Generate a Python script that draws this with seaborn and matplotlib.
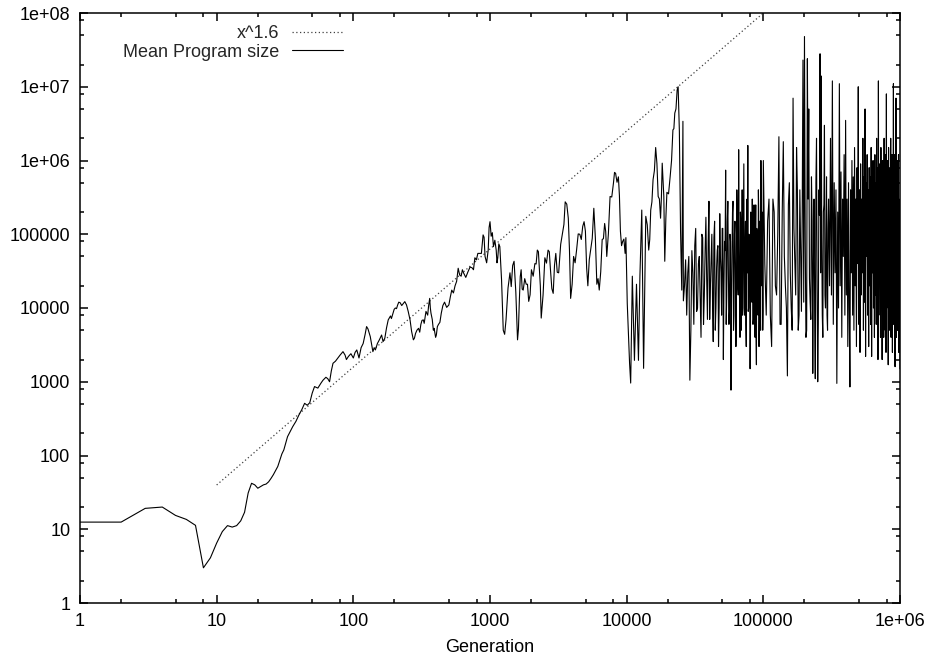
import numpy as np
import pandas as pd
import matplotlib
matplotlib.use("Agg")
import matplotlib.pyplot as plt
from matplotlib.ticker import LogLocator, FixedLocator, FixedFormatter, NullFormatter
import seaborn as sns

# ---------------- data ----------------
early_gens = [1, 2, 3, 4, 5, 6, 7, 8, 9, 10,
              11, 12, 13, 14, 15, 16, 17, 18, 19, 20,
              21, 22, 23, 24, 25, 26, 28, 30, 31, 33,
              36, 38, 40, 42, 44, 46, 48, 50, 52, 55,
              58, 60, 63, 65, 67, 69, 71, 74, 77, 80,
              84, 87, 89, 92, 96, 100, 103, 106, 110, 114,
              118, 122, 125, 128, 133, 136, 139, 142, 145, 150,
              155, 161, 165, 170, 175, 180, 187, 190, 195, 199,
              203, 207, 211, 215, 220, 226, 232, 238, 245, 252,
              260, 267, 275, 280, 285, 292, 300, 306, 312, 318,
              325, 330, 335, 340, 345, 350, 355, 362, 366, 370,
              378, 385, 390, 395, 400, 405, 412, 420, 430, 440,
              452, 465, 482, 500, 512, 525, 540, 555, 570, 585,
              600, 615, 628, 640, 665, 690, 715, 740, 757, 775,
              795, 815]
early_sizes = [12.5, 12.5, 19.2, 20, 15.4, 13.6, 11.3, 3.0, 4.1, 6.5,
               9.3, 11.2, 10.7, 11.2, 13, 17, 31, 42, 40, 36,
               38, 40, 41, 44, 49, 55, 71, 105, 119, 180,
               246, 290, 355, 420, 510, 480, 520, 700, 860, 820,
               960, 1050, 1150, 1100, 1000, 1400, 1780, 1900, 2100, 2300,
               2560, 2300, 2000, 2200, 2400, 2100, 2500, 2700, 2100, 2900,
               3300, 4400, 5600, 5200, 4100, 3200, 2560, 2900, 2700, 3300,
               3700, 4300, 3500, 3900, 5400, 6900, 7800, 7200, 8500, 9600,
               10000, 9800, 11000, 12000, 11800, 10800, 11500, 12200, 11000, 9000,
               6900, 4800, 3700, 3900, 4500, 5000, 5300, 4700, 6000, 6800,
               6900, 6200, 7500, 9000, 8500, 8000, 10500, 13500, 10000, 8500,
               7000, 5000, 5300, 4600, 4000, 4300, 5600, 6000, 6400, 8500,
               10800, 12000, 10200, 11000, 14000, 17500, 16000, 20000, 23000, 34600,
               28000, 27000, 33000, 30000, 26000, 31000, 36000, 35000, 33000, 48000,
               45000, 55000]

mid_gens = [840, 865, 890, 905, 920, 945, 970, 985, 1000, 1020,
            1040, 1060, 1085, 1110, 1125, 1140, 1160, 1180, 1215, 1250,
            1280, 1310, 1355, 1400, 1430, 1465, 1500, 1545, 1590, 1615,
            1640, 1665, 1690, 1720, 1750, 1795, 1840, 1880, 1920, 1965,
            2010, 2070, 2130, 2175, 2220, 2260, 2300, 2335, 2370, 2445,
            2520, 2590, 2660, 2715, 2770, 2835, 2900, 2965, 3030, 3105,
            3180, 3290, 3400, 3475, 3550, 3645, 3740, 3815, 3890, 3990,
            4090, 4195, 4300, 4420, 4540, 4655, 4770, 4880, 4990, 5095,
            5200, 5325, 5450, 5600, 5750, 5900, 6050, 6175, 6300, 6460,
            6620, 6760, 6900, 7025, 7150, 7350, 7560, 7780, 8000, 8150,
            8300, 8500, 8700, 8850, 9000, 9175, 9350, 9545, 9740, 9870,
            10100, 10300, 10500, 10700, 11000, 11400, 11800, 12200, 12500, 12900,
            13300, 13800, 14150, 14500, 14750, 15000, 15300, 15600, 15950, 16300,
            16650, 17000, 17350, 17700, 17950, 18200, 18700, 19000, 19350, 19700,
            20250, 20800, 21300, 21800, 22150, 22500, 22950, 23400, 23800, 24300,
            24800, 25300, 25800]
mid_sizes = [55000, 55000, 98000, 91000, 50000, 41000, 61000, 124000, 148000, 94000,
             105000, 68000, 83000, 61000, 41000, 48000, 74000, 68000, 24000, 5000,
             4400, 6900, 18700, 30000, 19500, 37700, 43000, 16400, 3700, 5200,
             12800, 26700, 33000, 18000, 17500, 25000, 21000, 21000, 12300, 15100,
             33000, 27000, 40000, 39500, 61000, 58000, 33000, 20000, 7300, 15000,
             48000, 40600, 61000, 58000, 33000, 18300, 15800, 38000, 55000, 30500,
             30000, 73000, 105000, 136000, 275000, 256000, 165000, 61000, 13500, 21000,
             50000, 41000, 61000, 101000, 100000, 85000, 128000, 148000, 110000, 35000,
             20000, 45000, 61000, 88000, 225000, 90000, 21000, 25000, 17500, 31000,
             85000, 87000, 140000, 109000, 50000, 102000, 325000, 320000, 490000, 690000,
             670000, 507000, 600000, 334000, 110000, 70000, 80000, 86000, 55000, 90000,
             11500, 4500, 1800, 960, 27000, 1950, 21000, 1950, 27000, 213000,
             1520, 175000, 134000, 61000, 85000, 213000, 274000, 550000, 726000, 1500000,
             907000, 325000, 301000, 165000, 312000, 920000, 325000, 43000, 164000, 370000,
             353000, 600000, 1000000, 2600000, 2700000, 4400000, 5000000, 9000000, 10000000, 2500000,
             105000, 17500, 3400000]

tail1_gens = list(range(26000, 100000, 1000))
tail1_sizes = [12500, 45000, 30000, 1050, 60000, 6000, 120000, 10000, 50000, 4000,
               90000, 15000, 170000, 7000, 280000, 20000, 100000, 3500, 150000, 10000,
               60000, 3000, 190000, 30000, 120000, 2000, 80000, 740000, 15000, 280000,
               6000, 100000, 770, 60000, 280000, 8000, 150000, 3000, 400000, 20000,
               1400000, 12000, 200000, 5000, 400000, 30000, 900000, 8000, 150000, 3000,
               300000, 1600000, 10000, 80000, 1500, 200000, 15000, 300000, 6000, 120000,
               40000, 4000, 250000, 1700, 100000, 20000, 400000, 3000, 150000, 8000,
               1000000, 30000, 200000, 5000]

tail1b_gens = list(range(26500, 100000, 1000))
tail1b_sizes = [20000, 8000, 50000, 5000, 30000, 70000, 9000, 40000, 15000, 100000,
                6000, 60000, 25000, 80000, 7000, 45000, 12000, 90000, 5000, 35000,
                70000, 10000, 50000, 8000, 120000, 20000, 60000, 6000, 150000, 30000,
                9000, 80000, 12000, 200000, 5000, 100000, 40000, 7000, 150000, 15000,
                60000, 4000, 120000, 25000, 8000, 200000, 10000, 70000, 6000, 150000,
                30000, 9000, 100000, 20000, 5000, 180000, 12000, 60000, 7000, 250000,
                15000, 80000, 4000, 120000, 30000, 8000, 200000, 10000, 90000, 5000,
                150000, 20000, 60000, 9000]

tail2_gens = list(range(100000, 1000001, 5000))
tail2_sizes = [1000000, 8000, 300000, 3000, 200000, 15000, 2100000, 6000, 1800000, 20000,
               1200, 500000, 10000, 7000000, 40000, 1500000, 5000, 400000, 9000, 23000000,
               48000000, 4000, 24000000, 5000000, 12000, 600000, 1300, 300000, 1100, 2000000,
               1000, 400000, 28000000, 14000000, 8000, 200000, 3000000, 10000, 600000, 5000,
               300000, 20000, 2000000, 15000, 12000000, 6000, 500000, 30000, 400000, 950,
               200000, 10000, 11000000, 20000, 700000, 4000, 300000, 50000, 1200000, 8000,
               3500000, 15000, 300000, 3000, 500000, 10000, 850, 400000, 30000, 1000000,
               8000, 600000, 5000, 1500000, 20000, 300000, 3000, 800000, 40000, 10000000,
               6000, 400000, 2500, 900000, 15000, 300000, 30000, 2000000, 5000, 600000,
               12000, 5000000, 2200, 500000, 50000, 1200000, 8000, 400000, 3000, 800000,
               20000, 600000, 6000, 1500000, 2200, 300000, 30000, 1000000, 10000, 700000,
               4000, 1200000, 15000, 500000, 6000, 2000000, 40000, 800000, 2000, 12000000,
               8000, 900000, 25000, 500000, 4000, 1500000, 12000, 400000, 2000, 1000000,
               15000, 700000, 4000, 2000000, 20000, 500000, 5000, 1200000, 2500, 8000000,
               10000, 600000, 40000, 1000000, 1700, 1500000, 15000, 400000, 5000, 800000,
               30000, 2000000, 4000, 600000, 12000, 1200000, 2500, 900000, 50000, 11000000,
               6000, 800000, 20000, 1200000, 1600, 500000, 10000, 7000000, 4000, 700000,
               15000, 1000000, 5000, 400000, 30000, 1200000, 2500, 300000, 10000, 150000,
               1500]

tail2b_gens = list(range(102500, 300000, 5000))
tail2b_sizes = [40000, 150000, 8000, 300000, 20000, 100000, 6000, 200000, 50000, 10000,
                250000, 30000, 5000, 120000, 15000, 400000, 8000, 60000, 200000, 12000,
                90000, 5000, 300000, 25000, 7000, 150000, 40000, 10000, 500000, 20000,
                6000, 180000, 30000, 100000, 4000, 250000, 15000, 60000, 8000, 120000]

fit_exponent = 1.6
fit_gens = [10, 100000]

x_ticks = [1, 10, 100, 1000, 10000, 100000, 1000000]
x_tick_labels = ["1", "10", "100", "1000", "10000", "100000", "1e+06"]
y_ticks = [1, 10, 100, 1000, 10000, 100000, 1e6, 1e7, 1e8]
y_tick_labels = ["1", "10", "100", "1000", "10000", "100000", "1e+06", "1e+07", "1e+08"]

series_label = "Mean Program size"
fit_label = "x^1.6"
x_label = "Generation"

# ---------------- build frames ----------------
segments = [(early_gens, early_sizes), (mid_gens, mid_sizes),
            (tail1_gens, tail1_sizes), (tail1b_gens, tail1b_sizes),
            (tail2_gens, tail2_sizes), (tail2b_gens, tail2b_sizes)]
for g, s in segments:
    assert len(g) == len(s), (len(g), len(s))
df = pd.concat([pd.DataFrame({"gen": g, "size": s}) for g, s in segments],
               ignore_index=True).sort_values("gen").reset_index(drop=True)
fit_df = pd.DataFrame({"gen": fit_gens,
                       "size": [g ** fit_exponent for g in fit_gens]})

# ---------------- style ----------------
sns.set_theme(style="ticks")
plt.rcParams["font.family"] = ["Liberation Sans", "DejaVu Sans"]
plt.rcParams["axes.linewidth"] = 1.1

fig = plt.figure(figsize=(9.34, 6.63), dpi=100)
ax = fig.add_axes([80 / 934, 1 - 603 / 663, 820 / 934, 590 / 663])

sns.lineplot(data=fit_df, x="gen", y="size", ax=ax, color="0.25",
             linewidth=0.9, linestyle=(0, (1, 2)), label=fit_label)
sns.lineplot(data=df, x="gen", y="size", ax=ax, color="black",
             linewidth=0.8, estimator=None, sort=False, label=series_label)

ax.set_xscale("log")
ax.set_yscale("log")
ax.set_xlim(1, 1e6)
ax.set_ylim(1, 1e8)

ax.xaxis.set_major_locator(FixedLocator(x_ticks))
ax.xaxis.set_major_formatter(FixedFormatter(x_tick_labels))
ax.yaxis.set_major_locator(FixedLocator(y_ticks))
ax.yaxis.set_major_formatter(FixedFormatter(y_tick_labels))
ax.xaxis.set_minor_locator(LogLocator(base=10, subs=[2, 5, 8], numticks=20))
ax.yaxis.set_minor_locator(LogLocator(base=10, subs=[2, 5, 8], numticks=20))
ax.xaxis.set_minor_formatter(NullFormatter())
ax.yaxis.set_minor_formatter(NullFormatter())

ax.tick_params(which="both", direction="in", top=True, right=True,
               color="black", width=1.1, labelsize=13, labelcolor="black")
ax.tick_params(which="major", length=5.5, pad=7)
ax.tick_params(which="minor", length=3)
for s in ax.spines.values():
    s.set_color("black")

ax.set_xlabel(x_label, fontsize=13, labelpad=7, color="black")
ax.set_ylabel("")

leg = ax.legend(loc="upper right", bbox_to_anchor=(343 / 934, 1 - 25 / 663),
                bbox_transform=fig.transFigure, frameon=False, markerfirst=False,
                fontsize=13, handlelength=2.8, handletextpad=0.75,
                labelspacing=0.1, borderpad=0, borderaxespad=0)

fig.savefig("out.png", dpi=100, facecolor="white")
